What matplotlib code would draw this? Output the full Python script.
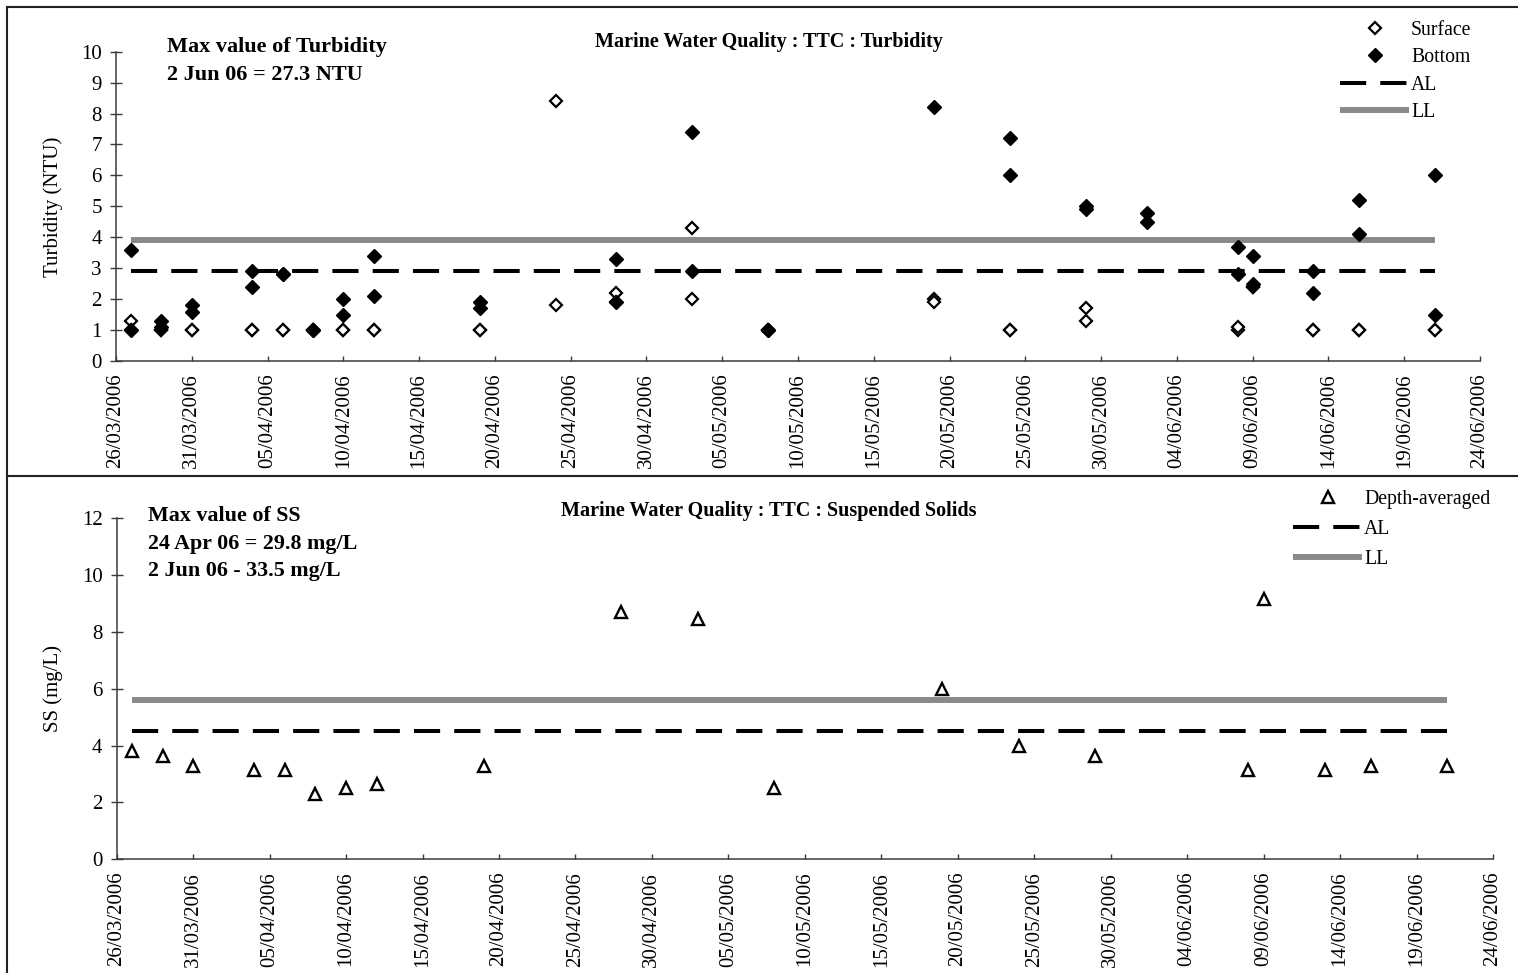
import matplotlib
matplotlib.use("Agg")
import matplotlib.pyplot as plt
import matplotlib.dates as mdates
from matplotlib.lines import Line2D
import numpy as np
import pandas as pd

plt.rcParams['font.family'] = ['Liberation Serif', 'DejaVu Serif']

# sampling dates
dates = pd.to_datetime([
    '2006-03-27', '2006-03-29', '2006-03-31', '2006-04-04', '2006-04-06',
    '2006-04-08', '2006-04-10', '2006-04-12', '2006-04-19', '2006-04-24',
    '2006-04-28', '2006-05-03', '2006-05-08', '2006-05-19', '2006-05-24',
    '2006-05-29', '2006-06-02', '2006-06-08', '2006-06-09', '2006-06-13',
    '2006-06-16', '2006-06-21'])

nan = np.nan
# turbidity (NTU), two replicates per depth
surface_1 = [1.3, 1.0, 1.0, 1.0, 1.0, 1.0, 1.0, 1.0, 1.0, 8.4, 2.2, 4.3, 1.0,
             2.0, 1.0, 1.3, 27.3, 1.0, 2.4, 1.0, 1.0, 1.0]
surface_2 = [1.0, 1.0, 1.0, 1.0, 1.0, 1.0, 1.0, 1.0, 1.0, 1.8, 1.9, 2.0, 1.0,
             1.9, 1.0, 1.7, nan, 1.1, 2.4, 1.0, 1.0, 1.0]
bottom_1 = [1.0, 1.1, 1.6, 2.4, 2.8, 1.0, 1.5, 2.1, 1.7, nan, 1.9, 2.9, 1.0,
            8.2, 6.0, 4.9, 4.5, 2.8, 2.5, 2.2, 4.1, 1.5]
bottom_2 = [3.6, 1.3, 1.8, 2.9, 2.8, 1.0, 2.0, 3.4, 1.9, nan, 3.3, 7.4, 1.0,
            nan, 7.2, 5.0, 4.8, 3.7, 3.4, 2.9, 5.2, 6.0]

# suspended solids (mg/L), depth-averaged
ss_depth_avg = [3.8, 3.65, 3.3, 3.15, 3.15, 2.3, 2.5, 2.65, 3.3, 29.8, 8.7,
                8.45, 2.5, 6.0, 4.0, 3.65, 33.5, 3.15, 9.15, 3.15, 3.3, 3.3]

turb_al, turb_ll = 2.9, 3.9
ss_al, ss_ll = 4.5, 5.6

x_start, x_end = pd.Timestamp('2006-03-26'), pd.Timestamp('2006-06-24')
x_ticks = pd.date_range(x_start, x_end, freq='5D')

W, H = 1518, 973
fig = plt.figure(figsize=(W / 100, H / 100), dpi=100)
ax1 = fig.add_axes([116 / W, 1 - 361 / H, (1480 - 116) / W, (361 - 51.7) / H])
ax2 = fig.add_axes([116.7 / W, 1 - 859.3 / H, (1493 - 116.7) / W, (859.3 - 518.3) / H])

axis_col = '#3a3a3a'
ll_col = '#8a8a8a'


def style_axis(ax, ymax, ystep):
    ax.set_xlim(x_start, x_end)
    ax.set_ylim(0, ymax)
    ax.set_yticks(np.arange(0, ymax + 0.1, ystep))
    ax.set_xticks(x_ticks)
    ax.xaxis.set_major_formatter(mdates.DateFormatter('%d/%m/%Y'))
    for side in ('top', 'right'):
        ax.spines[side].set_visible(False)
    for side in ('left', 'bottom'):
        ax.spines[side].set_color(axis_col)
        ax.spines[side].set_linewidth(1.1)
    ax.tick_params(axis='y', direction='inout', length=8.5, width=1,
                   color=axis_col, labelsize=15, pad=6)
    ax.tick_params(axis='x', direction='in', length=3.6, width=1,
                   color=axis_col, labelsize=15, pad=9, labelrotation=90)


def limit_lines(ax, al, ll):
    xs = [dates[0], dates[-1]]
    h_ll, = ax.plot(xs, [ll, ll], color=ll_col, lw=4.3, solid_capstyle='butt',
                    zorder=2, label='LL')
    h_al, = ax.plot(xs, [al, al], color='black', lw=2.9, dashes=(6.5, 3.5),
                    dash_capstyle='butt', zorder=3, label='AL')
    return h_al, h_ll


# ---- top: turbidity ----
style_axis(ax1, 10, 1)
al1, ll1 = limit_lines(ax1, turb_al, turb_ll)
s_kw = dict(ls='none', marker='D', ms=6.6, mfc='white', mec='black', mew=1.6, zorder=4)
b_kw = dict(ls='none', marker='D', ms=7.2, mfc='black', mec='black', mew=1.0, zorder=5)
h_s, = ax1.plot(dates, surface_1, label='Surface', **s_kw)
ax1.plot(dates, surface_2, **s_kw)
h_b, = ax1.plot(dates, bottom_1, label='Bottom', **b_kw)
ax1.plot(dates, bottom_2, **b_kw)
ax1.set_ylabel('Turbidity (NTU)', fontsize=15)
ax1.yaxis.set_label_coords(-0.039, 0.5)

ax1.legend([h_s, h_b, al1, ll1], ['Surface', 'Bottom', 'AL', 'LL'],
           loc='upper left', bbox_to_anchor=(1340 / W, 1 - 21 / H),
           bbox_transform=fig.transFigure, frameon=False, fontsize=14.2,
           handlelength=3.5, handletextpad=0.1, labelspacing=0.42,
           borderpad=0, borderaxespad=0, numpoints=1)

fig.text(769 / W, 1 - 42 / H, 'Marine Water Quality : TTC : Turbidity',
         ha='center', va='center', fontsize=14.5, fontweight='bold')
fig.text(167 / W, 1 - 47 / H, 'Max value of Turbidity', ha='left', va='center',
         fontsize=16, fontweight='bold')
fig.text(167 / W, 1 - 75 / H, '2 Jun 06 = 27.3 NTU', ha='left', va='center',
         fontsize=16, fontweight='bold')

# ---- bottom: suspended solids ----
style_axis(ax2, 12, 2)
al2, ll2 = limit_lines(ax2, ss_al, ss_ll)
h_d, = ax2.plot(dates, ss_depth_avg, ls='none', marker='^', ms=8.5, mfc='white',
                mec='black', mew=1.7, zorder=4, label='Depth-averaged')
ax2.set_ylabel('SS (mg/L)', fontsize=15)
ax2.yaxis.set_label_coords(-0.039, 0.5)

ax2.legend([h_d, al2, ll2], ['Depth-averaged', 'AL', 'LL'],
           loc='upper left', bbox_to_anchor=(1293 / W, 1 - 490 / H),
           bbox_transform=fig.transFigure, frameon=False, fontsize=14.2,
           handlelength=3.5, handletextpad=0.1, labelspacing=0.55,
           borderpad=0, borderaxespad=0, numpoints=1)

fig.text(769 / W, 1 - 511 / H, 'Marine Water Quality : TTC : Suspended Solids',
         ha='center', va='center', fontsize=14.5, fontweight='bold')
for i, line in enumerate(['Max value of SS', '24 Apr 06 = 29.8 mg/L',
                          '2 Jun 06 - 33.5 mg/L']):
    fig.text(148 / W, 1 - (516 + 27.5 * i) / H, line, ha='left', va='center',
             fontsize=15.8, fontweight='bold')

# chart area borders
border = dict(color='#222222', lw=1.5, transform=fig.transFigure)
fig.add_artist(Line2D([7 / W, 1], [1 - 7 / H, 1 - 7 / H], **border))
fig.add_artist(Line2D([7 / W, 7 / W], [0, 1 - 7 / H], **border))
fig.add_artist(Line2D([7 / W, 1], [1 - 476 / H, 1 - 476 / H], **border))

fig.savefig('out.png', dpi=100, facecolor='white')
